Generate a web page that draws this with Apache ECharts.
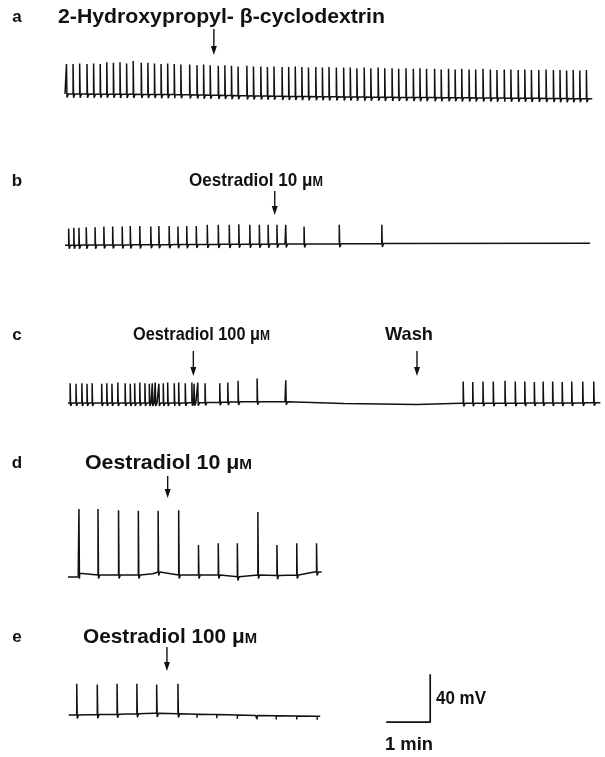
<!DOCTYPE html>
<html><head><meta charset="utf-8">
<script src="https://cdn.jsdelivr.net/npm/echarts@6/dist/echarts.min.js"></script>
<style>html,body{margin:0;padding:0;background:#fff}#c{width:605px;height:757px}</style>
</head><body><div id="c"></div>
<script>
// ---- data: time in s, membrane potential in mV ----
// a: 2-Hydroxypropyl-beta-cyclodextrin
const spikesA = [2,11,20,30,39,48,57,66,75,84,93,104,113,122,131,140,149,158,170,180,189,198,209,218,227,236,248,257,267,276,285,296,305,314,323,332,342,351,360,370,380,389,398,408,417,427,436,446,455,465,475,484,493,504,513,523,532,541,551,560,570,580,589,599,608,618,627,636,646,656,666,675,684,693,702,711];
const peaksA = [-35,-35,-34.5,-35,-34.5,-35,-33.5,-34,-33.5,-34.5,-32.5,-34,-34,-34.5,-35,-34.5,-35,-35.5,-35.5,-36,-35.5,-36,-36.5,-36,-36.5,-37,-36.5,-37,-37,-37.5,-37,-37.5,-37.5,-37,-37.5,-38,-37.5,-38,-37.5,-38,-38,-38,-38.5,-38,-38.5,-38,-38.5,-38.5,-39,-38.5,-39,-38.5,-39,-39,-39.5,-39,-39.5,-39,-39.5,-39.5,-39,-39.5,-40,-39.5,-39.5,-40,-39.5,-40,-40,-39.5,-40,-40,-40.5,-40,-40.5,-40];
const baseA = [[0,-60],[150,-60.5],[300,-62],[450,-62.8],[600,-63.4],[719,-64]];
const dipA = 3;
// b: oestradiol 10 uM
const spikesB = [5,12,19,29,41,53,65,78,89,102,117,128,142,154,166,179,194,209,224,237,252,265,277,289,301,326,374,432];
const peaksB = [-47,-46.5,-46.5,-46,-46,-45.5,-45.5,-45.5,-45,-45,-45.5,-45,-45,-45.5,-45,-45,-44,-44,-44,-43.5,-44,-44,-44,-44,-44,-45.5,-44,-44];
const baseB = [[0,-61],[150,-60.5],[300,-60],[432,-59.5],[716,-59.3]];
const dipB = 3;
// c: oestradiol 100 uM, then wash
const spikesC = [7,15,23,30,37,50,57,64,72,82,89,95,102,109,115,119,123,128,134,140,149,155,164,173,176,181,191,211,222,236,262,301,543,556,570,584,600,614,627,640,652,665,678,691,706,721];
const peaksC = [-43.5,-44,-43.5,-44,-43.5,-44,-43.5,-44,-43,-43.5,-44,-43.5,-43,-43.5,-44,-43.5,-43,-44,-43.5,-43,-43.5,-43,-43.5,-43,-44,-43,-43.5,-43.5,-43,-41.5,-39.5,-41,-42,-42.5,-42,-42,-41.5,-42,-42,-42.5,-42,-42,-42.5,-42,-42,-42];
const baseC = [[4,-60],[150,-60],[200,-59.5],[240,-59],[300,-59],[380,-60.5],[480,-61.3],[540,-60.3],[730,-59.8]];
const dipC = 2.5;
// d: oestradiol 10 uM
const spikesD = [19,45,73,100,127,155,182,209,235,263,289,316,343];
const peaksD = [-5,-5,-6,-6.5,-6.5,-6,-35,-33.5,-33.5,-7.5,-35,-33.5,-33.5];
const baseD = [[4,-61.7],[18,-61.7],[20,-58.5],[45,-60],[73,-60],[100,-60],[120,-59],[127,-57.5],[140,-58.5],[155,-60],[182,-60],[209,-60],[235,-61.5],[263,-60],[289,-60.5],[316,-60],[340,-57.5],[350,-57.5]];
const dipD = 3;
// e: oestradiol 100 uM
const spikesE = [16,44,71,98,125,154];
const peaksE = [-34,-34.5,-34,-34,-34.5,-34];
const ticksE = [180,207,235,262,288,316,344];
const baseE = [[5,-60],[60,-59.5],[120,-58.5],[154,-59],[200,-59.5],[260,-60.5],[348,-61]];
const dipE = 3;
// drug application times (s) per panel
const drugTimes = [203, 286, 175, 140, 139];
const washTime = 480;
const labels = ['a','b','c','d','e'];
// scale bar
const scaleBarSec = 60, scaleBarMv = 40;
const scaleBarOrigin = [438, -66];

// ---- build ----
function footAt(base, t) {
  if (t <= base[0][0]) return base[0][1];
  for (let i = 1; i < base.length; i++) {
    if (t <= base[i][0]) {
      const a = base[i-1], b = base[i];
      return a[1] + (b[1]-a[1]) * (t-a[0]) / (b[0]-a[0]);
    }
  }
  return base[base.length-1][1];
}
function buildTrace(base, spikes, peaks, dip, ticks) {
  const pts = [];
  base.forEach(p => pts.push({t:p[0], o:0, v:p[1]}));
  spikes.forEach((t, i) => {
    const f = footAt(base, t);
    pts.push({t:t, o:1, v:f});
    pts.push({t:t, o:2, v:peaks[i]});
    pts.push({t:t+0.7, o:1, v:f-dip});
    pts.push({t:t+2.5, o:1, v:f});
  });
  (ticks || []).forEach(t => {
    const f = footAt(base, t);
    pts.push({t:t, o:1, v:f}, {t:t, o:2, v:f-dip}, {t:t, o:3, v:f});
  });
  pts.sort((a, b) => a.t - b.t || a.o - b.o);
  return pts.map(p => [p.t, p.v]);
}
const traces = [
  {data: buildTrace(baseA, spikesA, peaksA, dipA), top: 22},
  {data: buildTrace(baseB, spikesB, peaksB, dipB), top: 172},
  {data: buildTrace(baseC, spikesC, peaksC, dipC), top: 331},
  {data: buildTrace(baseD, spikesD, peaksD, dipD), top: 503},
  {data: buildTrace(baseE, spikesE, peaksE, dipE, ticksE), top: 643}
];
const INK = '#111';
const FONT = '"Liberation Sans", Arial, sans-serif';
const chart = echarts.init(document.getElementById('c'));
const series = traces.map((tr, i) => ({
  type: 'line', xAxisIndex: i, yAxisIndex: i, data: tr.data,
  symbol: 'none', lineStyle: {color: INK, width: 1.5}, silent: true, z: 2
}));
series.push({
  type: 'line', xAxisIndex: 4, yAxisIndex: 4, symbol: 'none', silent: true,
  lineStyle: {color: INK, width: 1.7},
  data: [[scaleBarOrigin[0], scaleBarOrigin[1]],
         [scaleBarOrigin[0] + scaleBarSec, scaleBarOrigin[1]],
         [scaleBarOrigin[0] + scaleBarSec, scaleBarOrigin[1] + scaleBarMv]]
});
chart.setOption({
  animation: false,
  backgroundColor: '#fff',
  grid: traces.map(tr => ({left: 65, width: 539, top: tr.top, height: 96, outerBoundsMode: 'none'})),
  xAxis: traces.map((tr, i) => ({type: 'value', gridIndex: i, min: 0, max: 735, show: false})),
  yAxis: traces.map((tr, i) => ({type: 'value', gridIndex: i, min: -80, max: 0, show: false})),
  series: series
});

// ---- annotation text (condensed by horizontal scaling to fit measured spans) ----
const mctx = document.createElement('canvas').getContext('2d');
function measure(str, size) { mctx.font = 'bold ' + size + 'px ' + FONT; return mctx.measureText(str).width; }
function label(parts, size, left, right, y, align) {
  const small = Math.round(size * 0.72);
  let w = 0, text = '';
  parts.forEach(p => {
    const s = p[1] === 'm' ? small : size;
    w += measure(p[0], s);
    text += '{' + p[1] + '|' + p[0] + '}';
  });
  const sx = (right - left) / w;
  const x = align === 'center' ? (left + right) / 2 : left;
  return {type: 'text', x: x, y: y, scaleX: sx, silent: true,
    style: {text: text, align: align || 'left', verticalAlign: 'middle', fill: INK,
      rich: {n: {fontSize: size, fontWeight: 'bold', fontFamily: FONT, fill: INK},
             m: {fontSize: small, fontWeight: 'bold', fontFamily: FONT, fill: INK, padding: [Math.round(size*0.17),0,0,0]}}}};
}
function arrow(x, y1, y2) {
  return {type: 'group', x: x, y: 0, silent: true, children: [
    {type: 'line', shape: {x1: 0, y1: y1, x2: 0, y2: y2 - 6}, style: {stroke: INK, lineWidth: 1.4}},
    {type: 'polygon', shape: {points: [[-3, y2 - 9], [3, y2 - 9], [0, y2]]}, style: {fill: INK}}
  ]};
}
const letterY = [17, 181, 335, 463, 637];
const g = [];
labels.forEach((l, i) => g.push({type: 'text', x: 17, y: letterY[i], silent: true,
  style: {text: l, fontSize: 17, fontWeight: 'bold', fontFamily: FONT, fill: INK, align: 'center', verticalAlign: 'middle'}}));
g.push(label([['2-Hydroxypropyl- β-cyclodextrin','n']], 21, 58, 385, 17));
g.push(label([['Oestradiol 10 μ','n'],['M','m']], 19, 189, 323, 181));
g.push(label([['Oestradiol 100 μ','n'],['M','m']], 19, 133, 270, 335));
g.push(label([['Wash','n']], 19, 385, 433, 335));
g.push(label([['Oestradiol 10 μ','n'],['M','m']], 21, 85, 252, 463));
g.push(label([['Oestradiol 100 μ','n'],['M','m']], 21, 83, 257, 637));
const arrowY = [[29, 55], [191, 215], [351, 376], [476, 498], [647, 671]];
drugTimes.forEach((t, i) => {
  const px = chart.convertToPixel({gridIndex: i}, [t, 0])[0];
  g.push(arrow(px, arrowY[i][0], arrowY[i][1]));
});
g.push(arrow(chart.convertToPixel({gridIndex: 2}, [washTime, 0])[0], arrowY[2][0], arrowY[2][1]));
g.push(label([['40 mV','n']], 19, 436, 486, 699));
g.push(label([['1 min','n']], 19, 385, 433, 745, 'center'));
chart.setOption({graphic: g});
</script></body></html>
